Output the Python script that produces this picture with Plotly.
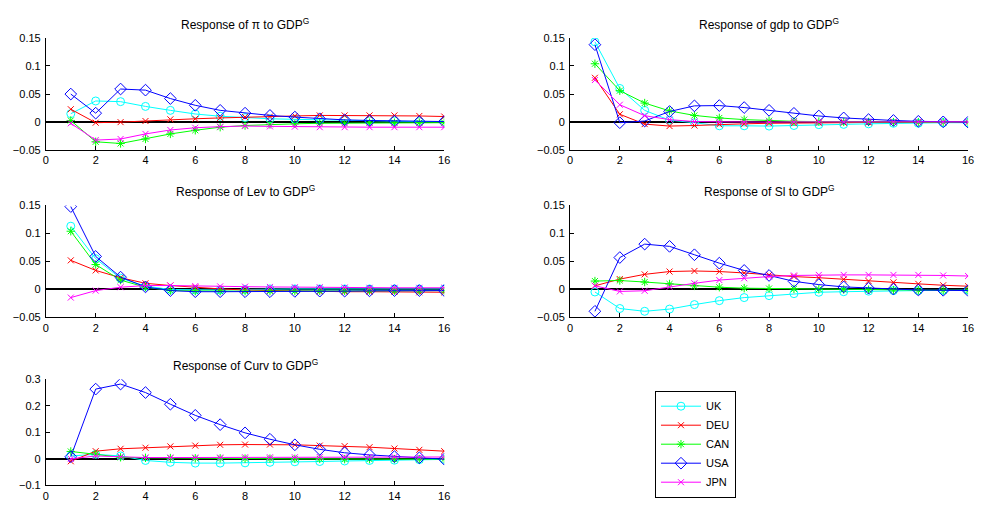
import plotly.graph_objects as go

horizons = list(range(1, 17))
countries = ["UK", "DEU", "CAN", "USA", "JPN"]

# Response of pi to GDP^G
pi_UK  = [0.015, 0.0377, 0.0365, 0.028, 0.021, 0.0145, 0.0105, 0.008, 0.006, 0.005, 0.004, 0.003, 0.002, 0.002, 0.001, 0.001]
pi_DEU = [0.023, -0.001, 0.0, 0.002, 0.005, 0.006, 0.0075, 0.009, 0.010, 0.011, 0.012, 0.012, 0.012, 0.012, 0.011, 0.010]
pi_CAN = [0.003, -0.035, -0.038, -0.030, -0.021, -0.0145, -0.009, -0.006, -0.004, -0.003, -0.002, -0.002, -0.001, -0.001, -0.001, -0.001]
pi_USA = [0.050, 0.016, 0.059, 0.057, 0.042, 0.030, 0.021, 0.016, 0.012, 0.009, 0.006, 0.004, 0.003, 0.002, 0.001, 0.001]
pi_JPN = [-0.002, -0.032, -0.030, -0.021, -0.014, -0.010, -0.008, -0.007, -0.0075, -0.008, -0.009, -0.009, -0.009, -0.009, -0.009, -0.009]

# Response of gdp to GDP^G
gdp_UK  = [0.143, 0.060, 0.021, 0.0035, -0.001, -0.0065, -0.0065, -0.007, -0.006, -0.0045, -0.004, -0.003, -0.002, -0.002, -0.001, -0.001]
gdp_DEU = [0.079, 0.014, -0.0035, -0.007, -0.006, -0.004, -0.003, -0.002, -0.002, -0.001, -0.001, -0.0005, 0.0, 0.0, 0.0, 0.0]
gdp_CAN = [0.104, 0.056, 0.034, 0.020, 0.012, 0.0075, 0.0045, 0.0025, 0.0015, 0.001, 0.0005, 0.0003, 0.0, 0.0, 0.0, 0.0]
gdp_USA = [0.138, -0.001, 0.002, 0.019, 0.029, 0.0295, 0.026, 0.021, 0.0157, 0.011, 0.0075, 0.0046, 0.003, 0.0015, 0.0005, 0.0]
gdp_JPN = [0.075, 0.031, 0.0115, 0.0045, 0.001, 0.0005, 0.0, 0.0, 0.0005, 0.0005, 0.0005, 0.0005, 0.0005, 0.0005, 0.0005, 0.0005]

# Response of Lev to GDP^G
lev_UK  = [0.113, 0.055, 0.020, 0.006, 0.0, -0.001, -0.001, 0.0, 0.001, 0.001, 0.001, 0.001, 0.001, 0.001, 0.001, 0.001]
lev_DEU = [0.052, 0.034, 0.021, 0.011, 0.007, 0.0035, 0.001, -0.001, -0.002, -0.003, -0.0035, -0.004, -0.004, -0.0045, -0.005, -0.005]
lev_CAN = [0.104, 0.0445, 0.0168, 0.004, -0.002, -0.003, -0.003, -0.003, -0.003, -0.003, -0.0025, -0.0025, -0.002, -0.002, -0.002, -0.002]
lev_USA = [0.148, 0.059, 0.022, 0.0046, -0.002, -0.004, -0.004, -0.004, -0.004, -0.0035, -0.003, -0.003, -0.0025, -0.002, -0.002, -0.002]
lev_JPN = [-0.0145, -0.002, 0.004, 0.007, 0.007, 0.006, 0.0055, 0.005, 0.0045, 0.004, 0.004, 0.0035, 0.003, 0.003, 0.003, 0.003]

# Response of Sl to GDP^G
sl_UK  = [-0.0045, -0.034, -0.039, -0.035, -0.027, -0.020, -0.0145, -0.011, -0.0075, -0.005, -0.004, -0.003, -0.002, -0.002, -0.0015, -0.001]
sl_DEU = [0.0065, 0.0185, 0.027, 0.032, 0.033, 0.032, 0.0295, 0.026, 0.023, 0.021, 0.018, 0.015, 0.0127, 0.010, 0.0075, 0.0058]
sl_CAN = [0.015, 0.016, 0.0133, 0.0098, 0.0064, 0.004, 0.0023, 0.0017, 0.001, 0.0005, 0.0, -0.0005, -0.001, -0.0015, -0.0017, -0.002]
sl_USA = [-0.039, 0.057, 0.081, 0.077, 0.062, 0.047, 0.034, 0.025, 0.0145, 0.0087, 0.0046, 0.0023, 0.0006, -0.001, -0.0015, -0.002]
sl_JPN = [0.0065, -0.0035, -0.0023, 0.0046, 0.011, 0.0168, 0.020, 0.023, 0.025, 0.026, 0.026, 0.026, 0.026, 0.026, 0.025, 0.024]

# Response of Curv to GDP^G
curv_UK  = [0.011, 0.017, 0.011, -0.006, -0.013, -0.016, -0.016, -0.015, -0.013, -0.011, -0.010, -0.008, -0.006, -0.005, -0.003, -0.002]
curv_DEU = [-0.009, 0.029, 0.038, 0.042, 0.047, 0.050, 0.053, 0.054, 0.054, 0.053, 0.050, 0.048, 0.044, 0.039, 0.034, 0.029]
curv_CAN = [0.028, 0.018, 0.006, 0.004, 0.003, 0.002, 0.002, 0.001, 0.001, 0.0, 0.0, -0.001, -0.001, -0.001, -0.001, -0.001]
curv_USA = [0.008, 0.263, 0.282, 0.250, 0.206, 0.164, 0.129, 0.098, 0.074, 0.053, 0.036, 0.023, 0.015, 0.0085, 0.004, -0.001]
curv_JPN = [0.0, 0.011, 0.008, 0.005, 0.005, 0.005, 0.005, 0.006, 0.006, 0.006, 0.007, 0.007, 0.007, 0.007, 0.007, 0.007]

panels = [
    ("Response of π to GDP<sup>G</sup>", [pi_UK, pi_DEU, pi_CAN, pi_USA, pi_JPN], [-0.05, 0.15], 0.05),
    ("Response of gdp to GDP<sup>G</sup>", [gdp_UK, gdp_DEU, gdp_CAN, gdp_USA, gdp_JPN], [-0.05, 0.15], 0.05),
    ("Response of Lev to GDP<sup>G</sup>", [lev_UK, lev_DEU, lev_CAN, lev_USA, lev_JPN], [-0.05, 0.15], 0.05),
    ("Response of Sl to GDP<sup>G</sup>", [sl_UK, sl_DEU, sl_CAN, sl_USA, sl_JPN], [-0.05, 0.15], 0.05),
    ("Response of Curv to GDP<sup>G</sup>", [curv_UK, curv_DEU, curv_CAN, curv_USA, curv_JPN], [-0.1, 0.3], 0.1),
]

colors = {"UK": "#00FFFF", "DEU": "#FF0000", "CAN": "#00FF00", "USA": "#0000FF", "JPN": "#FF00FF"}
symbols = {"UK": "circle-open", "DEU": "x-thin-open", "CAN": "asterisk-open", "USA": "diamond-open", "JPN": "x-thin-open"}
msizes = {"UK": 8, "DEU": 6, "CAN": 7, "USA": 9, "JPN": 6}

W, H = 982, 508
# axes pixel boxes (left, right, top, bottom)
boxes = [
    (43.3, 445.3, 32.7, 147.7),
    (572.3, 974.0, 32.7, 147.7),
    (43.3, 445.3, 204.3, 319.0),
    (572.3, 974.0, 204.3, 319.0),
    (43.3, 445.3, 382.3, 491.0),
]

FONT = "Liberation Sans, Arial, Helvetica, sans-serif"
fig = go.Figure()
layout = dict(
    width=W, height=H, margin=dict(l=0, r=0, t=0, b=0),
    paper_bgcolor="white", plot_bgcolor="white",
    font=dict(family=FONT, size=11, color="black"),
    annotations=[],
)

for i, (title, series, yr, dy) in enumerate(panels):
    l, r, t, b = boxes[i]
    n = "" if i == 0 else str(i + 1)
    xa = "xaxis" + n
    ya = "yaxis" + n
    layout[xa] = dict(
        domain=[l / W, r / W], range=[0, 16], tick0=0, dtick=2, anchor="y" + n,
        showline=True, linecolor="black", linewidth=1, ticks="inside", ticklen=4,
        tickcolor="black", showgrid=False, zeroline=False, mirror=False,
        tickfont=dict(size=11),
    )
    layout[ya] = dict(
        domain=[1 - b / H, 1 - t / H], range=yr, tick0=yr[0], dtick=dy, anchor="x" + n,
        showline=True, linecolor="black", linewidth=1, ticks="inside", ticklen=4,
        tickcolor="black", showgrid=False, zeroline=True, zerolinecolor="black",
        zerolinewidth=1.6, mirror=False, tickfont=dict(size=11),
        ticklabelstandoff=2,
    )
    for c, vals in zip(countries, series):
        fig.add_trace(go.Scatter(
            x=horizons, y=vals, mode="lines+markers", name=c,
            xaxis="x" + n, yaxis="y" + n,
            line=dict(color=colors[c], width=1),
            marker=dict(symbol=symbols[c], size=msizes[c], color=colors[c],
                        line=dict(color=colors[c], width=1)),
            showlegend=(i == 0),
        ))
    layout["annotations"].append(dict(
        text=title, xref="paper", yref="paper", x=(l + r) / 2 / W, y=1 - t / H,
        yshift=4, xanchor="center", yanchor="bottom", showarrow=False,
        font=dict(size=12, family=FONT),
    ))

layout["legend"] = dict(
    x=658 / W, y=1 - 394 / H, xanchor="left", yanchor="top",
    bordercolor="black", borderwidth=1, bgcolor="white",
    font=dict(size=11, family=FONT), itemwidth=40, tracegroupgap=0,
)

fig.update_layout(**layout)
fig.write_html("out.html")
